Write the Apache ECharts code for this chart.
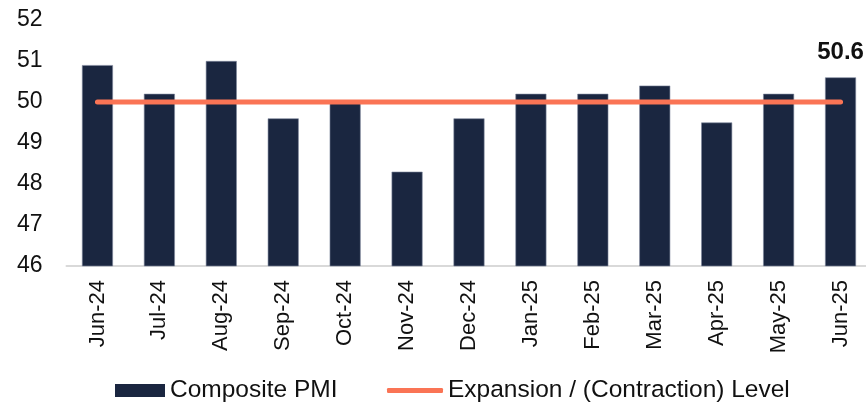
<!DOCTYPE html>
<html>
<head>
<meta charset="utf-8">
<script src="https://cdn.jsdelivr.net/npm/echarts@6/dist/echarts.min.js"></script>
<style>
html,body{margin:0;padding:0;background:#fff;}
#chart{width:866px;height:402px;}
</style>
</head>
<body>
<div id="chart"></div>
<script>
var categories = ['Jun-24','Jul-24','Aug-24','Sep-24','Oct-24','Nov-24','Dec-24','Jan-25','Feb-25','Mar-25','Apr-25','May-25','Jun-25'];
var compositePMI = [50.9, 50.2, 51.0, 49.6, 50.0, 48.3, 49.6, 50.2, 50.2, 50.4, 49.5, 50.2, 50.6];
var expansionLevel = [50, 50, 50, 50, 50, 50, 50, 50, 50, 50, 50, 50, 50];
var yTicks = [46, 47, 48, 49, 50, 51, 52];

var FONT = "'Liberation Sans', Arial, sans-serif";
var chart = echarts.init(document.getElementById('chart'), null, {renderer: 'canvas'});
var lastIdx = compositePMI.length - 1;

chart.setOption({
  animation: false,
  backgroundColor: '#ffffff',
  grid: {left: 66.5, top: 20, width: 805, height: 246, containLabel: false, outerBoundsMode: 'none'},
  legend: [
    {
      data: ['Composite PMI'],
      left: 115, top: 378, padding: 0,
      itemWidth: 50, itemHeight: 13, itemGap: 10,
      textStyle: {fontFamily: FONT, fontSize: 24.5, color: '#111'},
      itemStyle: {borderWidth: 0},
      icon: 'rect'
    },
    {
      data: ['Expansion / (Contraction) Level'],
      left: 387, top: 378, padding: 0,
      itemWidth: 56, itemHeight: 5,
      icon: 'roundRect',
      itemStyle: {color: '#fa7455', borderWidth: 0},
      textStyle: {fontFamily: FONT, fontSize: 24.5, color: '#111'}
    }
  ],
  xAxis: {
    type: 'category',
    data: categories,
    boundaryGap: true,
    axisLine: {show: true, lineStyle: {color: '#d9d9d9', width: 2}},
    axisTick: {show: false},
    axisLabel: {rotate: 90, margin: 14, fontFamily: FONT, fontSize: 22, color: '#111', interval: 0}
  },
  yAxis: {
    type: 'value',
    min: yTicks[0], max: yTicks[yTicks.length - 1], interval: 1,
    axisLine: {show: false},
    axisTick: {show: false},
    splitLine: {show: false},
    axisLabel: {margin: 24, fontFamily: FONT, fontSize: 23, color: '#111'}
  },
  series: [
    {
      name: 'Composite PMI',
      type: 'bar',
      data: compositePMI.map(function (v, i) {
        return i === lastIdx ? {value: v, label: {show: true}} : v;
      }),
      barWidth: '50%',
      itemStyle: {color: '#1a2640', borderColor: '#7d879c', borderWidth: 0.6},
      label: {
        show: false, position: 'top', distance: 13,
        fontFamily: FONT, fontSize: 24, fontWeight: 'bold', color: '#111'
      },
      z: 1
    },
    {
      name: 'Expansion / (Contraction) Level',
      type: 'line',
      data: expansionLevel,
      symbol: 'none',
      lineStyle: {color: '#fa7455', width: 5, cap: 'round'},
      itemStyle: {color: '#fa7455'},
      z: 3
    }
  ]
});
</script>
</body>
</html>
